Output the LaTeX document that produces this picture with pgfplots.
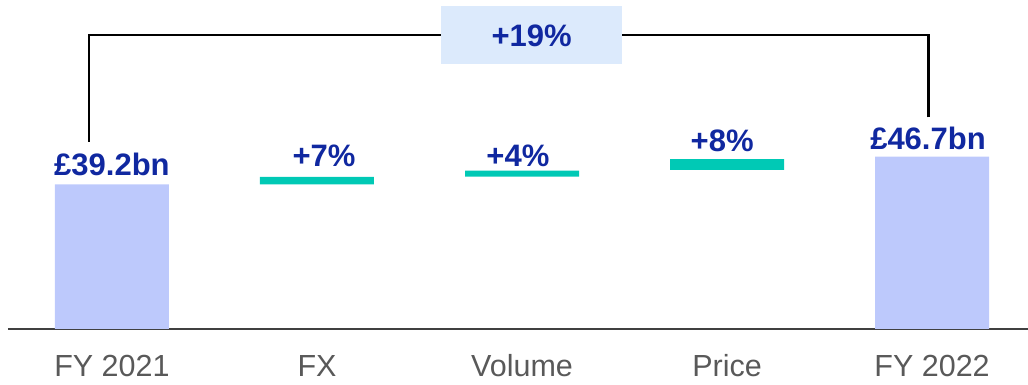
\documentclass[border=0pt]{standalone}
\usepackage{fontspec}
\setmainfont{Liberation Sans}
\usepackage{pgfplots}
\pgfplotsset{compat=1.18}

\definecolor{barblue}{RGB}{189,201,252}
\definecolor{stepgreen}{RGB}{0,201,181}
\definecolor{labelblue}{RGB}{16,40,160}
\definecolor{boxblue}{RGB}{220,234,252}
\definecolor{tickgrey}{RGB}{89,89,89}
\definecolor{axisgrey}{RGB}{64,64,64}

\tikzset{vallabel/.style={font=\bfseries\fontsize{31}{31}\selectfont,
  text=labelblue, anchor=base, inner sep=0pt}}

\begin{document}
\begin{tikzpicture}
\begin{axis}[
  at={(8pt,56pt)}, anchor=south west,
  scale only axis,
  width=1020pt, height=329pt,
  xmin=-0.507, xmax=4.468,
  ymin=0, ymax=89.14,
  ybar stacked, bar width=114pt,
  axis x line*=bottom, axis y line=none,
  axis line style={draw=axisgrey, line width=2.2pt},
  xtick={0,1,2,3,4},
  xticklabels={FY 2021, FX, Volume, Price, FY 2022},
  major tick length=0pt,
  xticklabel style={font=\fontsize{30.5}{30}\selectfont, text=tickgrey,
    anchor=north, inner sep=0pt, text height=22pt, text depth=0pt, yshift=-25pt},
  clip=false,
]
% hidden base of each step
\addplot[draw=none, fill=white, fill opacity=0] coordinates {(0,0) (1,39.2) (2,41.3) (3,43.1) (4,0)};
% totals
\addplot[draw=none, fill=barblue] coordinates {(0,39.2) (1,0) (2,0) (3,0) (4,46.7)};
% changes
\addplot[draw=none, fill=stepgreen] coordinates {(0,0) (1,2.0) (2,1.6) (3,2.9) (4,0)};

% value labels
\node[vallabel] at (axis cs:0,39.2) [yshift=9.3pt] {£39.2bn};
\node[vallabel] at (axis cs:1.034,41.2) [yshift=10.3pt] {+7\%};
\node[vallabel] at (axis cs:1.98,41.2) [yshift=10.3pt] {+4\%};
\node[vallabel] at (axis cs:2.976,46.0) [yshift=7.6pt] {+8\%};
\node[vallabel] at (axis cs:3.98,46.7) [yshift=7.6pt] {£46.7bn};

% overall change bracket with its boxed label
\draw[black, line width=2.2pt] (axis cs:-0.111,50.75) |- (axis cs:1.605,79.73);
\draw[black, line width=2.2pt] (axis cs:3.982,57.36) |- (axis cs:2.489,79.73);
\node[font=\bfseries\fontsize{31}{31}\selectfont, text=labelblue,
  fill=boxblue, inner sep=0pt, minimum width=181pt, minimum height=58.6pt,
  text height=22pt, text depth=0pt, anchor=center]
  at (axis cs:2.047,79.65) {+19\%};
\end{axis}
\pgfresetboundingbox
\path[use as bounding box] (0,0) rectangle (1028pt,385pt);
\end{tikzpicture}
\end{document}
